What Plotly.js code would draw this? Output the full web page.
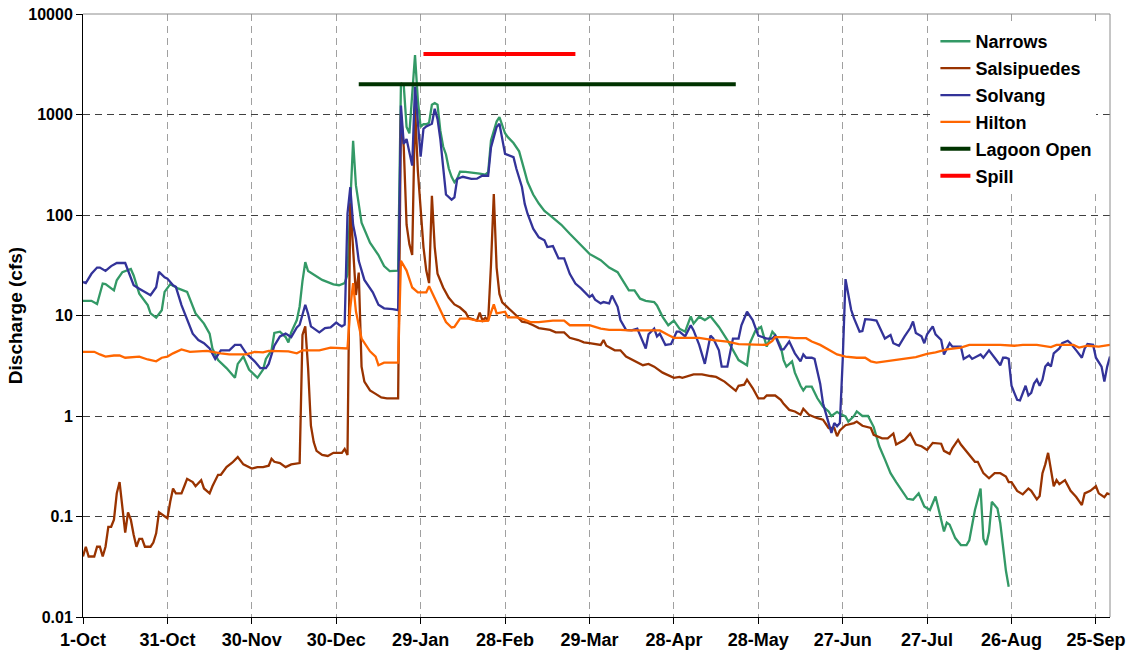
<!DOCTYPE html>
<html>
<head>
<meta charset="utf-8">
<script src="https://cdn.plot.ly/plotly-3.0.1.min.js"></script>
<style>
html,body{margin:0;padding:0;background:#fff;}
#chart{width:1130px;height:658px;}
</style>
</head>
<body>
<div id="chart"></div>
<script>
// x = day of water year (0 = 1-Oct)
const tickDays = [0,30,60,90,120,150,180,210,240,270,300,330,360];
const tickLabels = ['1-Oct','31-Oct','30-Nov','30-Dec','29-Jan','28-Feb','29-Mar','28-Apr','28-May','27-Jun','27-Jul','26-Aug','25-Sep'];
const yTicks = [0.01,0.1,1,10,100,1000,10000];
const yTickLabels = ['0.01','0.1','1','10','100','1000','10000'];

const narrowsDay = [0,3,5,7,8,11,12,14,17,18,20,23,24,26,28,29,31,34,37,40,43,45,46,48,51,54,55,57,59,62,64,65,67,68,70,72,73,74,76,77,78,79,80,83,85,89,91,93,94,95,96,97,99,102,105,107,109,112,113,114,115,116,117,118,119,120,121,122,123,124,125,126,127,128,129,130,131,132,133,134,136,138,141,143,144,145,146,147,148,149,150,151,153,155,156,157,158,160,162,164,166,170,173,177,180,184,187,190,192,194,196,198,200,203,204,206,208,210,212,214,216,217,219,221,223,226,229,231,233,236,237,239,241,243,245,246,248,249,250,252,253,255,256,257,259,261,263,265,266,268,269,271,272,274,275,277,279,281,282,283,285,287,289,291,293,295,297,299,301,303,305,306,307,308,310,312,314,315,317,319,320,321,322,323,325,326,327,328,329];
const narrowsQ = [14,14,13,20.8,20.5,17.8,22.4,27,29,25,16.5,12.7,10.5,9.5,11.3,17.2,20.5,18.5,17.2,10.5,8.3,6.6,4.7,3.6,3.0,2.4,3.3,3.9,2.9,2.4,2.9,3.7,4.5,6.7,6.9,6.1,5.4,6.8,9,12.3,22,34,27.7,24.5,22.6,20.4,20,21,25.6,131,547,197,84,53,40,31,27.7,28,2050,1950,750,650,1500,3900,1400,750,800,800,830,1250,1300,1250,690,480,400,290,240,212,230,270,268,265,258,252,267,550,700,850,940,760,650,595,520,430,350,270,213,160,130,110,99,80,65,50,41,35.5,30,27,21.6,17.8,17.8,14.7,14,13.6,12.6,9.7,8,8.9,7.4,6.9,9.8,8.3,9.7,9,9.8,7.7,5.7,4.5,3.6,3.2,5.3,7.1,7.7,4.9,6.9,6.4,4.9,3.6,3.1,3.5,2.7,2.0,1.8,1.96,1.96,1.5,1.24,1.11,1.0,1.1,1.05,0.99,0.88,1.0,1.11,1.0,1.0,0.78,0.63,0.5,0.37,0.27,0.22,0.18,0.15,0.147,0.17,0.126,0.116,0.158,0.093,0.071,0.087,0.083,0.061,0.052,0.052,0.058,0.116,0.19,0.06,0.052,0.07,0.14,0.12,0.086,0.05,0.029,0.02];

const salsDay = [0,1,2,4,5,6,7,8,9,10,11,12,13,14,15,16,17,18,19,20,21,22,24,25,26,27,28,30,31,32,33,35,36,37,39,40,42,43,45,46,48,49,51,53,55,57,60,62,64,66,67,68,70,72,74,77,78,79,80,81,82,83,85,87,89,92,93,94,95,96,97,98,99,100,102,104,106,108,112,113,114,115,116,117,118,119,120,121,122,123,124,125,126,128,130,132,134,136,137,140,141,142,143,144,145,146,147,148,149,151,153,154,156,158,160,162,166,168,171,173,176,178,180,184,185,186,189,191,193,196,199,201,203,206,210,212,213,217,220,223,225,228,230,232,233,235,236,238,240,242,243,246,248,249,251,253,255,256,258,261,263,265,267,268,269,271,274,275,277,280,281,284,286,288,289,292,294,296,298,300,302,305,306,308,309,311,312,314,317,318,320,322,324,326,328,329,330,332,334,336,337,339,340,341,342,343,344,345,346,347,349,350,351,353,355,356,358,360,361,363,364,365];
const salsQ = [0.04,0.05,0.04,0.04,0.05,0.05,0.04,0.05,0.079,0.079,0.093,0.17,0.22,0.116,0.069,0.11,0.093,0.066,0.05,0.06,0.06,0.05,0.05,0.055,0.068,0.11,0.105,0.096,0.14,0.19,0.17,0.17,0.2,0.237,0.22,0.2,0.23,0.19,0.17,0.2,0.26,0.26,0.31,0.343,0.39,0.33,0.30,0.31,0.31,0.32,0.375,0.35,0.34,0.31,0.33,0.34,6.4,7.8,3,0.8,0.55,0.45,0.41,0.4,0.43,0.43,0.47,0.41,131,40,16,26.7,3.1,2.2,1.8,1.66,1.53,1.5,1.5,1000,470,80,51,40,1200,277,103,48,28,21,155,48,26,19,15,12.9,12,10.7,9.5,8.9,10.7,8.9,9.5,8.9,32,162,30,16.4,13.5,12,10.5,10,8.7,8.5,8,7.5,7.2,6.8,6.8,6.0,5.7,5.4,5.3,5.1,5.7,5.0,4.5,4.5,3.9,3.5,3.2,3.3,3.1,2.7,2.4,2.45,2.4,2.6,2.6,2.5,2.45,2.2,2.0,1.78,2.0,2.05,2.3,1.9,1.5,1.5,1.6,1.6,1.45,1.32,1.15,1.11,1.03,1.18,1.03,0.95,0.92,0.76,0.76,0.63,0.72,0.81,0.85,0.88,0.8,0.76,0.65,0.6,0.6,0.67,0.52,0.58,0.67,0.52,0.5,0.46,0.54,0.53,0.45,0.42,0.48,0.58,0.52,0.44,0.35,0.35,0.27,0.24,0.27,0.27,0.25,0.22,0.22,0.18,0.166,0.19,0.18,0.148,0.16,0.27,0.33,0.43,0.3,0.2,0.23,0.21,0.23,0.2,0.18,0.156,0.13,0.17,0.18,0.2,0.17,0.156,0.17,0.166];

const solvangDay = [0,1,3,5,6,8,10,12,15,16,18,20,22,24,26,27,29,30,32,33,35,37,39,41,43,45,47,49,52,54,56,58,61,63,65,66,68,70,72,74,76,77,79,80,81,84,86,88,90,91,92,93,94,95,96,97,98,100,103,105,107,110,112,113,114,115,116,117,118,119,120,121,122,124,125,126,127,128,129,131,132,133,135,138,140,142,144,145,146,147,148,149,150,153,154,156,157,158,160,162,164,165,167,169,171,173,175,177,180,181,182,184,185,187,188,190,191,193,195,197,198,200,201,203,204,205,207,209,211,212,214,216,217,219,221,223,224,226,227,229,231,233,234,236,238,240,243,245,246,248,249,251,253,255,256,257,259,260,262,263,265,266,267,268,269,270,271,272,273,274,276,277,278,280,282,285,287,288,290,292,294,295,296,298,299,300,302,303,305,306,308,309,312,313,315,316,319,320,322,324,326,327,328,329,330,331,332,333,334,335,336,337,338,339,340,341,342,343,344,345,347,348,350,351,353,355,356,357,359,360,362,363,364,365];
const solvangQ = [21.6,21,26,30,30,27.8,31,33.3,33.3,28,20,18.5,17.2,15.9,19.1,27.2,24,23.3,20,19.3,12.7,9,6.6,5.7,5.3,4.7,3.7,4.5,4.5,5.1,5.1,4.2,3.5,3.0,3.0,3.3,5.0,6.2,6.6,6.1,7.6,8.1,12.8,10.4,7.8,6.8,7.5,7.6,8.5,8.1,7.8,8.1,103,189,80,58,35,22.6,17,12.8,11.8,11.6,11.3,1230,510,570,420,310,1900,800,380,720,760,810,1140,900,570,300,160,142,150,229,240,229,230,247,245,470,600,750,810,550,406,376,290,190,129,103,73,60,56,48,49,37,37,26,20.8,18.6,15.3,16,14.4,13.2,13.6,13.2,15.8,12.2,9,7.2,7.1,7.4,6.3,4.7,6.5,7.4,6.2,6.6,5.1,5.2,6.9,6.9,6.2,8.0,7.1,5.1,3.3,6.3,5.9,4.5,3.1,3.1,5.9,5.9,8,10.9,9,6.3,5.9,5.9,6.3,4.6,4.6,5.5,4.2,3.5,4.1,3.8,3.8,3.7,2.1,1.34,0.85,0.68,0.85,0.79,0.85,3.6,23,15.5,11.4,9.4,6.9,7.0,9.2,9.1,8.9,5.9,6.4,5.3,5.0,6.2,7.5,8.7,6.7,6.2,5.3,6.5,7.8,6.5,5.7,4.1,5.3,4.9,4.9,3.7,4.0,3.7,4.1,3.8,4.5,3.8,3.2,3.8,3.8,3.7,2.0,1.7,1.45,1.43,1.7,2.0,1.6,1.7,2.1,2.3,2.0,2.3,3.1,3.35,3.1,4.2,4.7,5.3,5.6,5.3,4.5,3.8,4.7,5.2,5.1,3.8,3.1,2.2,3.1,3.9];

const hiltonDay = [0,4,6,8,11,13,15,18,20,23,26,28,30,32,35,38,42,44,49,52,56,58,61,64,66,69,73,76,78,84,88,94,95,96,97,98,99,102,104,105,107,112,113,115,117,119,121,122,123,124,125,127,129,131,132,134,137,140,142,144,146,147,150,151,154,156,159,162,167,171,173,177,180,184,187,191,194,199,205,208,210,215,219,224,229,233,239,243,245,246,250,253,257,259,262,265,268,271,275,278,280,282,285,289,293,296,300,303,307,312,315,321,326,331,334,339,344,346,352,354,357,361,365];
const hiltonQ = [4.35,4.35,4.1,3.9,4.0,4.0,3.8,3.9,3.9,3.65,3.5,3.8,3.9,4.2,4.6,4.35,4.45,4.45,4.2,4.1,4.1,4.1,4.35,4.3,4.45,4.45,4.4,4.2,4.5,4.5,4.8,4.7,12,21,11,8,5.9,4.4,3.9,3.2,3.4,3.4,35,28,19,17,17,17,19.5,17,15.2,11.2,8.6,7.6,7.7,9.3,9.3,8.9,8.8,8.9,12.9,10.5,10.9,9.6,9.6,9.3,8.6,8.6,8.9,8.9,8.0,8.0,8.0,7.4,7.2,7.2,7.1,7.1,7.1,6.4,6.0,6.0,6.0,5.7,5.5,5.2,5.1,5.1,5.6,6.1,6.1,5.95,5.95,5.5,5.1,4.55,4.1,3.9,3.8,3.8,3.5,3.4,3.5,3.6,3.75,3.85,4.15,4.3,4.6,4.8,5.1,5.1,5.1,5.0,5.1,5.1,4.85,5.1,5.1,4.8,5.0,4.9,5.1];

const lagoonDay = [98,232];
const lagoonQ = [2000,2000];
const spillDay = [121,175];
const spillQ = [4000,4000];

const FONT = 'Liberation Sans, Arial, Helvetica, sans-serif';

function tr(name, x, y, color, width){
  return {type:'scatter', mode:'lines', name:name, x:x, y:y, legendgroup:name,
    line:{color:color, width:width}, hoverinfo:'skip'};
}

const data = [
  tr('Narrows', narrowsDay, narrowsQ, '#339966', 2.3),
  tr('Salsipuedes', salsDay, salsQ, '#993300', 2.3),
  tr('Solvang', solvangDay, solvangQ, '#333399', 2.3),
  tr('Hilton', hiltonDay, hiltonQ, '#FF6600', 2.3),
  tr('Lagoon Open', lagoonDay, lagoonQ, '#003300', 4),
  tr('Spill', spillDay, spillQ, '#FF0000', 4)
];

const layout = {
  width:1130, height:658,
  margin:{l:83, r:20, t:14, b:41},
  paper_bgcolor:'#ffffff', plot_bgcolor:'#ffffff',
  font:{family:FONT, color:'#000', size:18, weight:'bold'},
  showlegend:true,
  legend:{x:0.83, y:0.985, xanchor:'left', yanchor:'top', bgcolor:'#ffffff',
    borderwidth:0, font:{family:FONT, size:18, color:'#000', weight:'bold'},
    tracegroupgap:0.5},
  xaxis:{type:'linear', range:[0,365], tickmode:'array', tickvals:tickDays, ticktext:tickLabels,
    ticks:'outside', ticklen:6, tickcolor:'#000', showline:true, linecolor:'#000', linewidth:1,
    showgrid:true, gridcolor:'#a0a0a0', griddash:'7px,5px', gridwidth:1, zeroline:false,
    tickfont:{family:FONT, size:18, color:'#000', weight:'bold'}},
  yaxis:{type:'log', range:[-2,4], tickmode:'array', tickvals:yTicks, ticktext:yTickLabels,
    ticks:'outside', ticklen:6, tickcolor:'#000', showline:true, linecolor:'#000', linewidth:1,
    showgrid:true, gridcolor:'#404040', griddash:'7px,5px', gridwidth:1, zeroline:false,
    tickfont:{family:FONT, size:16, color:'#000', weight:'bold'},
    title:{text:'Discharge (cfs)', font:{family:FONT, size:19, color:'#000', weight:'bold'}, standoff:0}},
  shapes:[
    {type:'line', xref:'paper', yref:'paper', x0:0, x1:1, y0:1, y1:1, line:{color:'#8c8c8c', width:1}},
    {type:'line', xref:'paper', yref:'paper', x0:1, x1:1, y0:0, y1:1, line:{color:'#8c8c8c', width:1}}
  ]
};

Plotly.newPlot('chart', data, layout, {displayModeBar:false, staticPlot:true});
</script>
</body>
</html>
